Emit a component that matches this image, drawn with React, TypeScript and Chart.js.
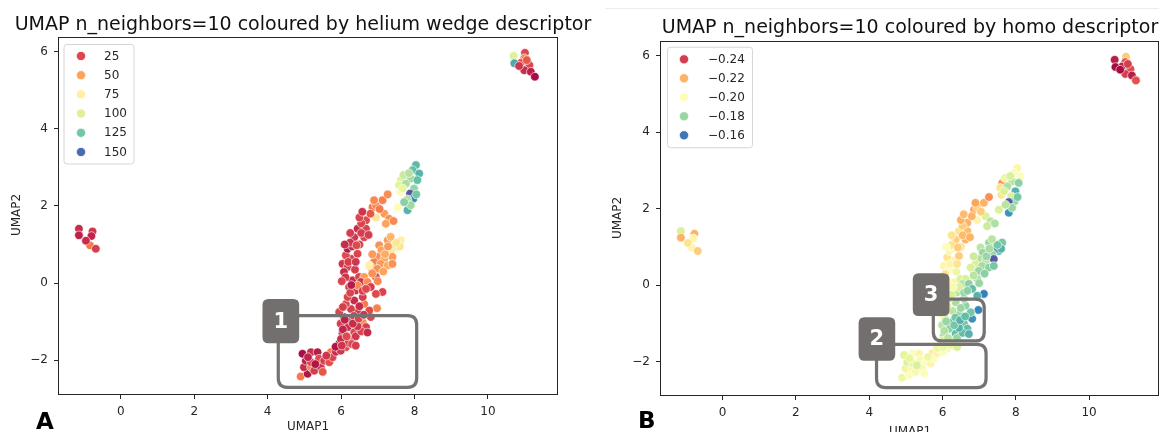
import React, { useEffect, useRef } from "react";
import { Chart, registerables } from "chart.js";
Chart.register(...registerables);

// ---------- DATA (UMAP embedding shared by both panels) ----------
const umap1 = [
  // small cluster left
  -1.14, -1.14, -0.77, -0.8, -0.84, -0.68, -0.95,
  // cluster top right
  10.7, 11.01, 10.99, 10.9, 10.72, 11.13, 10.99, 11.17, 11.28, 11.06, 10.85,
  // bottom tail
  4.9, 5.09, 4.99, 5.18, 5.27, 5.45, 5.04, 5.18, 4.95, 5.18,
  5.36, 5.4, 5.54, 5.68, 5.72, 5.77, 5.3, 5.6, 5.1, 5.5, 5.86, 6.0,
  // left stripe, lower part
  5.95, 6.13, 5.99, 6.27, 6.04, 6.36, 6.18, 5.99, 6.27, 6.54,
  6.59, 6.68, 6.08, 5.95, 6.45, 6.27, 6.13, 6.36, 6.18, 6.4,
  6.22, 6.31, 6.49, 6.81, 6.98, 6.77, 6.63, 6.59, 6.4, 6.55,
  6.2, 6.05,
  // left stripe, upper part
  6.04, 6.18, 6.08, 6.27, 6.13, 6.45, 6.18, 6.36, 6.63, 6.45,
  6.68, 6.68, 6.86, 6.95, 7.13, 7.27, 6.95, 7.18, 7.31, 7.22,
  7.43, 6.5, 6.3, 6.55, 6.8,
  // top of main branch
  8.04, 7.95, 8.13, 7.9, 7.63, 7.58, 7.77, 8.08, 7.61, 7.99,
  7.88, 7.97, 7.81, 7.81, 7.9, 7.54, 7.7, 7.85,
  // right stripe
  7.27, 7.63, 7.54, 7.45, 7.04, 7.1, 7.36, 6.99, 7.18, 7.4,
  6.9, 7.08, 7.27, 7.4, 6.81, 6.99, 6.77, 6.63, 6.54, 6.72,
  6.95, 6.45, 6.81, 7.13, 6.95, 6.59, 7.6, 7.2,
  // extra points in the dense part
  6.1, 6.35, 6.5, 6.25, 6.12, 6.38, 6.25, 6.55, 6.0, 6.45, 5.85, 6.3,
  6.02, 6.15, 6.32, 6.48, 6.62, 6.05, 6.28, 6.02, 6.2, 6.4,
  6.1, 6.42, 6.25, 6.5, 6.58, 6.75, 6.9, 7.05, 6.72, 6.4,
  7.5, 7.28, 7.15, 6.85, 7.0, 6.68, 7.35, 6.85,
  7.68, 8.05, 7.72,
];
const umap2 = [
  1.41, 1.24, 1.34, 1.22, 0.98, 0.89, 1.1,
  5.89, 5.97, 5.83, 5.71, 5.7, 5.65, 5.52, 5.48, 5.35, 5.78, 5.63,
  -2.42, -2.35, -2.18, -2.18, -2.27, -2.18, -2.01, -2.05, -1.83, -1.79,
  -1.79, -1.96, -2.01, -2.05, -1.79, -1.92, -2.1, -1.88, -1.92, -2.3, -1.78, -1.72,
  -1.57, -1.66, -1.75, -1.44, -1.31, -1.27, -1.14, -1.05, -0.97, -1.01,
  -1.01, -1.14, -0.88, -0.75, -0.75, -0.67, -0.54, -0.45, -0.36, -0.19,
  -0.1, 0.07, 0.16, -0.88, -0.65, -0.71, -0.54, -0.36, -1.38, -1.25,
  -1.55, -1.2,
  0.5, 0.42, 0.29, 0.63, 0.72, 0.76, 0.89, 1.19, 1.19, 1.41,
  1.41, 1.63, 1.97, 2.02, 2.15, 2.3, 1.7, 1.8, 1.67, 1.54,
  1.61, 1.0, 0.95, 1.3, 1.8,
  3.06, 2.93, 2.84, 2.71, 2.67, 2.54, 2.58, 2.67, 2.36, 2.45,
  2.32, 2.19, 2.17, 1.89, 2.02, 1.97, 2.8, 2.85,
  1.11, 1.11, 0.89, 0.94, 0.98, 0.85, 0.81, 0.68, 0.63, 0.68,
  0.55, 0.5, 0.46, 0.5, 0.42, 0.37, 0.46, 0.16, 0.03, 0.03,
  0.16, -0.06, -0.1, -0.23, -0.28, -0.2, 0.95, 0.75,
  -0.95, -0.85, -0.6, -0.25, 0.15, 0.35, 1.05, 1.55, -1.45, -1.12, -1.65, -1.58,
  -1.62, -1.38, -1.05, -0.92, -0.82, -0.62, -0.05, 0.05, 0.55, 0.55,
  1.0, 0.98, 1.3, 1.7, 1.85, 1.25, 2.15, 1.92, -1.28, -1.62,
  1.05, 0.95, 0.3, 0.25, 0.05, -0.15, 1.2, 0.75,
  2.45, 2.3, 2.1,
];
const heliumWedge = [
  18, 15, 20, 16, 40, 22, 18,
  100, 25, 45, 28, 135, 25, 18, 15, 10, 30, 20,
  40, 12, 18, 42, 22, 20, 15, 24, 10, 18,
  14, 26, 22, 28, 40, 24, 12, 20, 16, 30, 18, 22,
  12, 25, 20, 24, 22, 26, 18, 22, 25, 20,
  45, 22, 18, 24, 20, 22, 26, 18, 24, 20,
  22, 18, 24, 25, 42, 26, 40, 22, 20, 24,
  22, 16,
  20, 25, 18, 22, 26, 24, 12, 20, 25, 18,
  24, 26, 40, 44, 42, 45, 70, 48, 46, 50,
  44, 22, 18, 22, 30,
  130, 128, 132, 115, 100, 98, 112, 128, 80, 118,
  155, 142, 110, 132, 115, 85, 105, 110,
  48, 75, 80, 100, 46, 50, 72, 45, 50, 48,
  42, 48, 52, 46, 22, 46, 75, 48, 20, 45,
  25, 44, 22, 24, 26, 22, 70, 52,
  15, 22, 18, 24, 20, 22, 20, 24, 18, 20, 12, 24,
  20, 26, 18, 24, 20, 22, 14, 24, 22, 20,
  18, 26, 22, 24, 20, 22, 44, 40, 18, 22,
  70, 48, 50, 46, 44, 26, 55, 48,
  95, 125, 120,
];
const homo = [
  -0.19, -0.22, -0.22, -0.205, -0.205, -0.215, -0.21,
  -0.245, -0.215, -0.235, -0.245, -0.248, -0.238, -0.24, -0.245, -0.236, -0.24, -0.248,
  -0.195, -0.2, -0.195, -0.205, -0.198, -0.205, -0.19, -0.195, -0.192, -0.2,
  -0.205, -0.198, -0.2, -0.205, -0.208, -0.2, -0.19, -0.195, -0.193, -0.2, -0.206, -0.21,
  -0.19, -0.198, -0.2, -0.185, -0.18, -0.172, -0.178, -0.185, -0.17, -0.168,
  -0.175, -0.172, -0.19, -0.195, -0.18, -0.185, -0.19, -0.182, -0.19, -0.185,
  -0.2, -0.205, -0.19, -0.165, -0.163, -0.175, -0.178, -0.18, -0.18, -0.172,
  -0.19, -0.183,
  -0.205, -0.2, -0.21, -0.205, -0.21, -0.215, -0.205, -0.215, -0.22, -0.21,
  -0.218, -0.22, -0.222, -0.215, -0.22, -0.225, -0.205, -0.19, -0.185, -0.188,
  -0.183, -0.21, -0.2, -0.218, -0.22,
  -0.205, -0.2, -0.2, -0.185, -0.225, -0.21, -0.183, -0.178, -0.21, -0.17,
  -0.19, -0.18, -0.156, -0.165, -0.18, -0.19, -0.195, -0.19,
  -0.18, -0.175, -0.172, -0.165, -0.185, -0.18, -0.18, -0.183, -0.185, -0.155,
  -0.19, -0.182, -0.178, -0.175, -0.185, -0.18, -0.19, -0.19, -0.185, -0.178,
  -0.182, -0.19, -0.172, -0.162, -0.17, -0.18, -0.17, -0.18,
  -0.18, -0.175, -0.18, -0.19, -0.2, -0.195, -0.21, -0.215, -0.19, -0.17, -0.195, -0.192,
  -0.195, -0.185, -0.175, -0.17, -0.172, -0.19, -0.198, -0.205, -0.205, -0.21,
  -0.2, -0.215, -0.21, -0.22, -0.218, -0.22, -0.222, -0.215, -0.17, -0.19,
  -0.175, -0.182, -0.178, -0.185, -0.18, -0.178, -0.185, -0.188,
  -0.19, -0.175, -0.185,
];
const heliumLegend = [25, 50, 75, 100, 125, 150];
const homoLegend = [-0.24, -0.22, -0.2, -0.18, -0.16];
const homoLegendLabels = ["\u22120.24", "\u22120.22", "\u22120.20", "\u22120.18", "\u22120.16"];
const xTicks = [0, 2, 4, 6, 8, 10];
const yTicks = [-2, 0, 2, 4, 6];

// ---------- STYLE ----------
const SPECTRAL = ["#9e0142", "#d53e4f", "#f46d43", "#fdae61", "#fee08b", "#ffffbf", "#e6f598", "#abdda4", "#66c2a5", "#3288bd", "#5e4fa2"];
function hexToRgb(h: string) {
  return [parseInt(h.slice(1, 3), 16), parseInt(h.slice(3, 5), 16), parseInt(h.slice(5, 7), 16)];
}
function spectral(t: number) {
  const tt = Math.max(0, Math.min(1, t)) * 10;
  const i = Math.min(9, Math.floor(tt));
  const f = tt - i;
  const a = hexToRgb(SPECTRAL[i]);
  const b = hexToRgb(SPECTRAL[i + 1]);
  const c = a.map((v, k) => Math.round(v + (b[k] - v) * f));
  return `rgb(${c[0]},${c[1]},${c[2]})`;
}
const FONT = "'DejaVu Sans', 'Noto Sans', sans-serif";
const TEXT = "#262626";

type Ann = { label: string; box: number[]; tag: number[] };

const panels = [
  {
    left: 0, width: 600,
    area: { l: 58, t: 37, r: 558, b: 395 },
    title: "UMAP n_neighbors=10 coloured by helium wedge descriptor",
    titlePos: [303, 30],
    values: heliumWedge, vmin: 7, vmax: 158,
    legendValues: heliumLegend, legendLabels: heliumLegend.map(String),
    legendBox: [63.5, 44, 70, 119.5], legendRow0: 56, legendStep: 19.2, legendDotX: 81, legendTextX: 104,
    yLabelPos: [17, 215], xLabelPos: [308, 430],
    letter: "A", letterPos: [36, 429],
    annotations: [{ label: "1", box: [4.29, -0.84, 8.06, -2.7], tag: [3.86, -0.41, 4.86, -1.56] }] as Ann[],
    topLine: false,
  },
  {
    left: 600, width: 559,
    area: { l: 60, t: 41, r: 560, b: 396 },
    title: "UMAP n_neighbors=10 coloured by homo descriptor",
    titlePos: [310, 33],
    values: homo, vmin: -0.2496, vmax: -0.1535,
    legendValues: homoLegend, legendLabels: homoLegendLabels,
    legendBox: [67, 46.7, 85, 100.6], legendRow0: 59.3, legendStep: 19, legendDotX: 84, legendTextX: 108,
    yLabelPos: [18, 218], xLabelPos: [310, 435],
    letter: "B", letterPos: [38, 428],
    annotations: [
      { label: "3", box: [5.75, -0.37, 7.14, -1.46], tag: [5.19, 0.31, 6.19, -0.81] },
      { label: "2", box: [4.2, -1.55, 7.19, -2.68], tag: [3.71, -0.84, 4.71, -1.98] },
    ] as Ann[],
    topLine: true,
  },
];

function rr(ctx: CanvasRenderingContext2D, x: number, y: number, w: number, h: number, r: number) {
  ctx.beginPath();
  ctx.moveTo(x + r, y);
  ctx.lineTo(x + w - r, y);
  ctx.quadraticCurveTo(x + w, y, x + w, y + r);
  ctx.lineTo(x + w, y + h - r);
  ctx.quadraticCurveTo(x + w, y + h, x + w - r, y + h);
  ctx.lineTo(x + r, y + h);
  ctx.quadraticCurveTo(x, y + h, x, y + h - r);
  ctx.lineTo(x, y + r);
  ctx.quadraticCurveTo(x, y, x + r, y);
  ctx.closePath();
}

function Panel({ p }: { p: (typeof panels)[number] }) {
  const ref = useRef<HTMLCanvasElement>(null);
  useEffect(() => {
    const canvas = ref.current!;
    const H = 432;
    const norm = (v: number) => (v - p.vmin) / (p.vmax - p.vmin);
    const points = umap1.map((x, i) => ({ x, y: umap2[i] }));
    const colors = p.values.map((v) => spectral(norm(v)));
    const deco = {
      id: "deco",
      afterDraw(chart: any) {
        const ctx: CanvasRenderingContext2D = chart.ctx;
        const ca = chart.chartArea;
        const xs = chart.scales.x;
        const ys = chart.scales.y;
        ctx.save();
        // annotations
        for (const a of p.annotations) {
          const bx0 = xs.getPixelForValue(a.box[0]);
          const by0 = ys.getPixelForValue(a.box[1]);
          const bx1 = xs.getPixelForValue(a.box[2]);
          const by1 = ys.getPixelForValue(a.box[3]);
          ctx.strokeStyle = "#767271";
          ctx.lineWidth = 3.2;
          rr(ctx, bx0, by0, bx1 - bx0, by1 - by0, 9);
          ctx.stroke();
          const tx0 = xs.getPixelForValue(a.tag[0]);
          const ty0 = ys.getPixelForValue(a.tag[1]);
          const tx1 = xs.getPixelForValue(a.tag[2]);
          const ty1 = ys.getPixelForValue(a.tag[3]);
          ctx.fillStyle = "#736f6e";
          rr(ctx, tx0, ty0, tx1 - tx0, ty1 - ty0, 6);
          ctx.fill();
          ctx.fillStyle = "#ffffff";
          ctx.font = `bold 21px ${FONT}`;
          ctx.textAlign = "center";
          ctx.textBaseline = "middle";
          ctx.fillText(a.label, (tx0 + tx1) / 2, (ty0 + ty1) / 2 + 1);
        }
        // frame
        ctx.strokeStyle = TEXT;
        ctx.lineWidth = 1;
        ctx.strokeRect(Math.round(ca.left) + 0.5, Math.round(ca.top) + 0.5, Math.round(ca.right - ca.left) - 1, Math.round(ca.bottom - ca.top) - 1);
        // legend
        const [lx, ly, lw, lh] = p.legendBox;
        ctx.fillStyle = "rgba(255,255,255,0.8)";
        ctx.strokeStyle = "#d6d6d6";
        ctx.lineWidth = 1;
        rr(ctx, lx + 0.5, ly + 0.5, lw, lh, 3);
        ctx.fill();
        ctx.stroke();
        ctx.font = `12px ${FONT}`;
        ctx.textAlign = "left";
        ctx.textBaseline = "middle";
        p.legendValues.forEach((v, i) => {
          const cy = p.legendRow0 + i * p.legendStep;
          ctx.beginPath();
          ctx.arc(p.legendDotX, cy, 4.6, 0, Math.PI * 2);
          ctx.fillStyle = spectral(norm(v));
          ctx.fill();
          ctx.strokeStyle = "#ffffff";
          ctx.lineWidth = 0.7;
          ctx.stroke();
          ctx.fillStyle = TEXT;
          ctx.fillText(p.legendLabels[i], p.legendTextX, cy + 0.5);
        });
        // title
        ctx.fillStyle = "#111";
        ctx.font = `19px ${FONT}`;
        ctx.textAlign = "center";
        ctx.textBaseline = "alphabetic";
        ctx.fillText(p.title, p.titlePos[0], p.titlePos[1]);
        // axis titles
        ctx.fillStyle = TEXT;
        ctx.font = `12px ${FONT}`;
        ctx.fillText("UMAP1", p.xLabelPos[0], p.xLabelPos[1]);
        ctx.save();
        ctx.translate(p.yLabelPos[0], p.yLabelPos[1]);
        ctx.rotate(-Math.PI / 2);
        ctx.textBaseline = "middle";
        ctx.fillText("UMAP2", 0, 0);
        ctx.restore();
        // panel letter
        ctx.fillStyle = "#000";
        ctx.font = `bold 23px ${FONT}`;
        ctx.textAlign = "left";
        ctx.textBaseline = "alphabetic";
        ctx.fillText(p.letter, p.letterPos[0], p.letterPos[1]);
        if (p.topLine) {
          ctx.strokeStyle = "#ececec";
          ctx.lineWidth = 1;
          ctx.beginPath();
          ctx.moveTo(5, 8.5);
          ctx.lineTo(p.width, 8.5);
          ctx.stroke();
        }
        ctx.restore();
      },
    };
    const tickFmt = (v: any) => (Number(v) < 0 ? "\u2212" + Math.abs(Number(v)) : String(v));
    const chart = new Chart(canvas, {
      type: "scatter",
      data: {
        datasets: [
          {
            data: points,
            pointRadius: 4.3,
            pointHoverRadius: 4.3,
            pointBackgroundColor: colors,
            pointBorderColor: "#ffffff",
            pointBorderWidth: 0.6,
          },
        ],
      },
      options: {
        animation: false,
        responsive: false,
        events: [],
        layout: { autoPadding: false, padding: { left: 0, top: p.area.t, right: p.width - p.area.r, bottom: 0 } },
        plugins: { legend: { display: false }, tooltip: { enabled: false }, title: { display: false } },
        scales: {
          x: {
            type: "linear",
            min: -1.71,
            max: 11.91,
            afterBuildTicks: (s: any) => {
              s.ticks = xTicks.map((v) => ({ value: v }));
            },
            afterFit: (s: any) => {
              s.height = H - p.area.b;
              s.paddingLeft = 0;
              s.paddingRight = 0;
            },
            grid: { display: true, drawOnChartArea: false, drawTicks: true, tickLength: 4, color: TEXT, lineWidth: 1 },
            border: { display: false },
            ticks: { font: { family: FONT, size: 12 }, color: TEXT, padding: 6, maxRotation: 0, callback: tickFmt },
          },
          y: {
            type: "linear",
            min: -2.9,
            max: 6.38,
            afterBuildTicks: (s: any) => {
              s.ticks = yTicks.map((v) => ({ value: v }));
            },
            afterFit: (s: any) => {
              s.width = p.area.l;
              s.paddingTop = 0;
              s.paddingBottom = 0;
            },
            grid: { display: true, drawOnChartArea: false, drawTicks: true, tickLength: 4, color: TEXT, lineWidth: 1 },
            border: { display: false },
            ticks: { font: { family: FONT, size: 12 }, color: TEXT, padding: 6, callback: tickFmt },
          },
        },
      },
      plugins: [deco],
    } as any);
    return () => chart.destroy();
  }, [p]);
  return (
    <canvas
      ref={ref}
      width={p.width}
      height={432}
      style={{ position: "absolute", left: p.left, top: 0, width: p.width, height: 432 }}
    />
  );
}

export default function App() {
  return (
    <div style={{ position: "absolute", left: 0, top: 0, width: 1159, height: 432, background: "#fff", overflow: "hidden" }}>
      {panels.map((p, i) => (
        <Panel key={i} p={p} />
      ))}
    </div>
  );
}
